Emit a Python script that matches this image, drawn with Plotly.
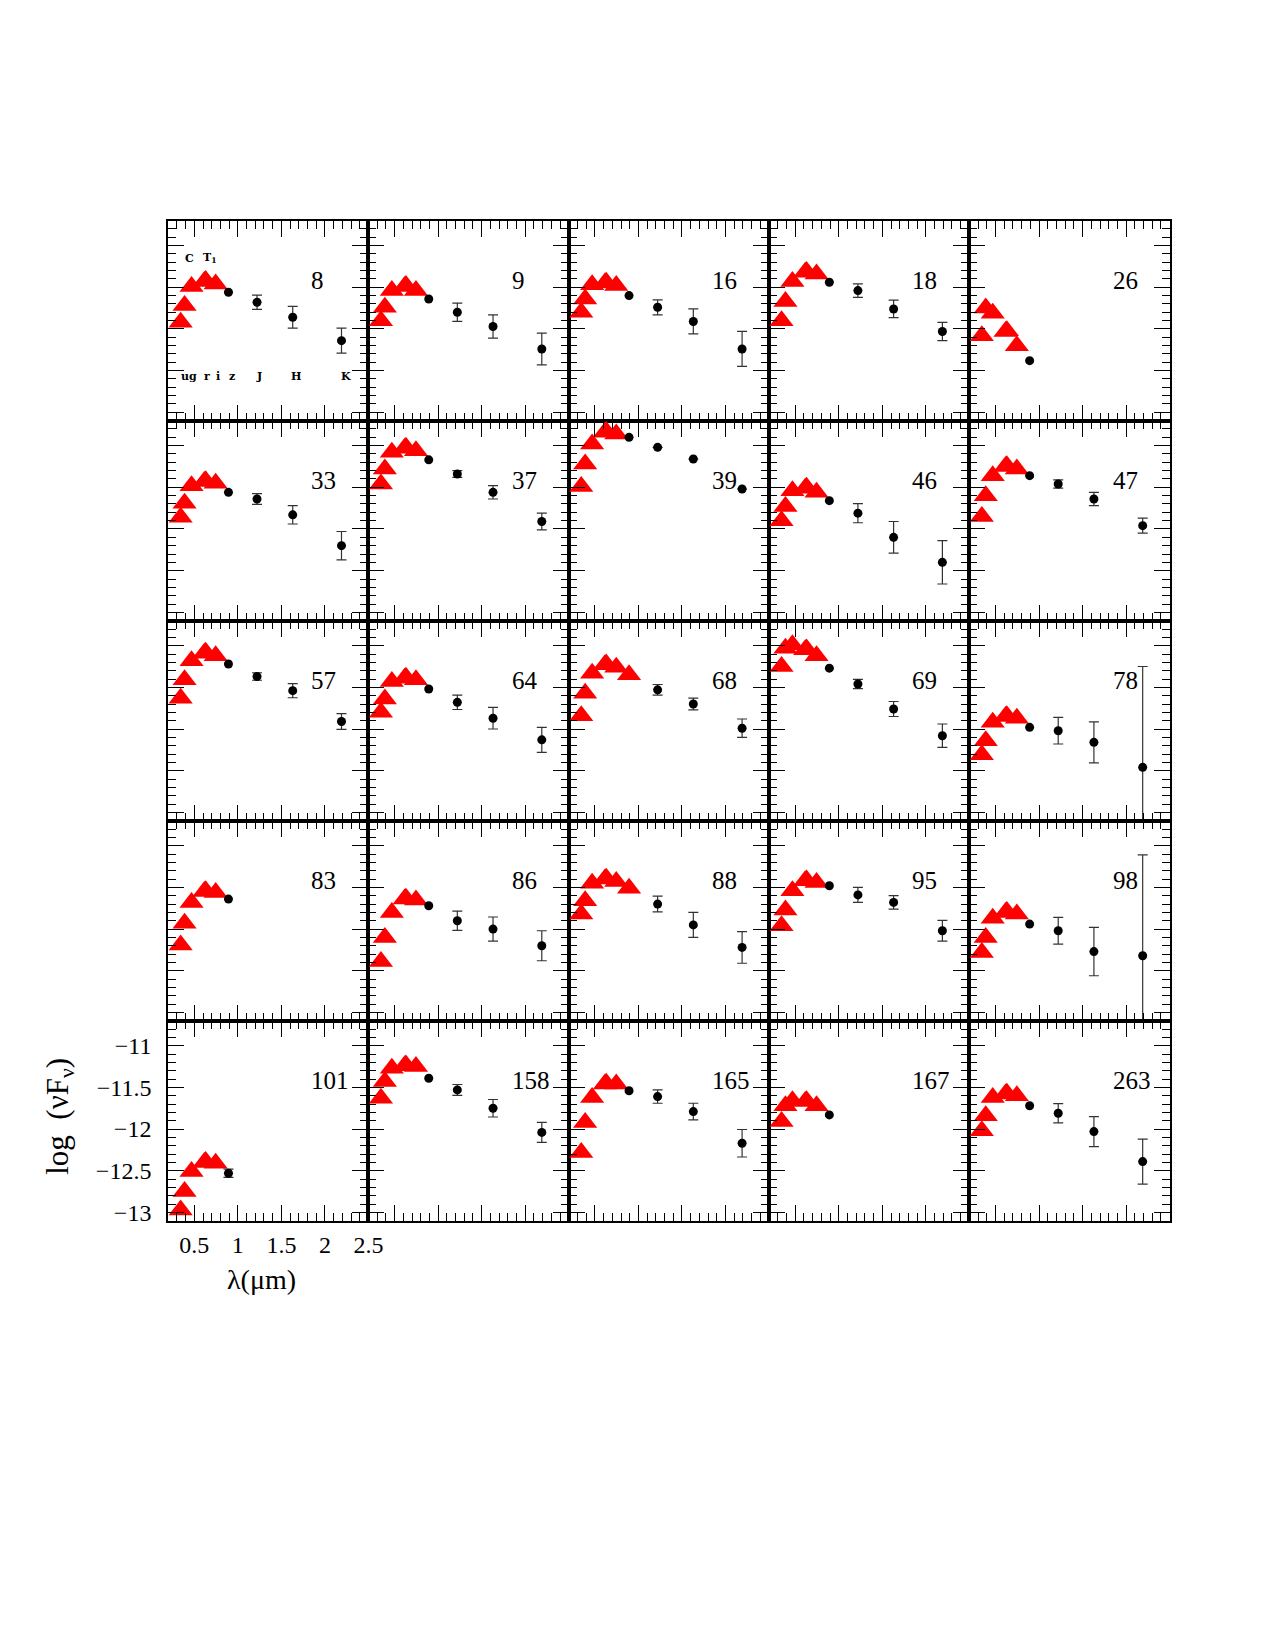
import plotly.graph_objects as go
from plotly.subplots import make_subplots

# ---------------- data ----------------
panel_ids = [8, 9, 16, 18, 26, 33, 37, 39, 46, 47, 57, 64, 68, 69, 78,
             83, 86, 88, 95, 98, 101, 158, 165, 167, 263]

# wavelengths (micron) of optical bands u, C, g, r, T1, i ; z ; J, H, K
opt_wave = [0.343, 0.388, 0.468, 0.615, 0.630, 0.745]
z_wave = 0.892
nir_wave = [1.22, 1.63, 2.19]

u_vals = [-11.92, -11.90, -11.80, -11.90, -12.08, -11.86, -11.46, -11.49, -11.90, -11.85,
          -11.63, -11.80, -11.84, -11.25, -12.31, -12.19, -12.39, -11.82, -11.96, -12.28,
          -12.97, -11.63, -12.28, -11.91, -12.02]
c_vals = [-11.72, -11.74, -11.64, -11.67, -11.75, -11.69, -11.28, -11.22, -11.73, -11.60,
          -11.41, -11.64, -11.57, -11.03, -12.14, -11.93, -12.10, -11.66, -11.77, -12.10,
          -12.75, -11.43, -11.92, -11.72, -11.84]
g_vals = [-11.49, -11.54, -11.47, -11.43, -11.81, -11.48, -11.08, -10.98, -11.54, -11.36,
          -11.18, -11.43, -11.33, -10.99, -11.92, -11.68, -11.80, -11.45, -11.54, -11.87,
          -12.51, -11.27, -11.62, -11.66, -11.62]
r_vals = [-11.43, -11.49, -11.45, -11.32, -12.03, -11.43, -11.03, -10.84, -11.51, -11.25,
          -11.09, -11.39, -11.23, -11.05, -11.85, -11.55, -11.64, -11.40, -11.42, -11.80,
          -12.40, -11.24, -11.46, -11.67, -11.58]
t1_vals = [-11.42, -11.48, -11.44, -11.31, -12.02, -11.42, -11.02, -10.83, -11.50, -11.24,
           -11.08, -11.38, -11.22, -11.04, -11.84, -11.54, -11.63, -11.39, -11.41, -11.79,
           -12.39, -11.23, -11.45, -11.66, -11.57]
i_vals = [-11.46, -11.54, -11.48, -11.34, -12.20, -11.45, -11.06, -10.86, -11.56, -11.28,
          -11.12, -11.41, -11.26, -11.12, -11.87, -11.56, -11.65, -11.43, -11.44, -11.82,
          -12.41, -11.25, -11.46, -11.72, -11.60]
z_vals = [-11.56, -11.64, -11.60, -11.44, -12.38, -11.56, -11.17, -10.90, -11.66, -11.36,
          -11.22, -11.52, -11.35, -11.27, -11.98, -11.64, -11.72, -11.51, -11.48, -11.94,
          -12.53, -11.39, -11.54, -11.83, -11.72]
z_is_triangle = [False, False, False, False, False, False, False, False, False, False,
                 False, False, True, False, False, False, False, True, False, False,
                 False, False, False, False, False]
z_err = [None] * 20 + [0.05, None, None, None, None]

j_vals = [-11.68, -11.80, -11.74, -11.54, None, -11.64, -11.34, -11.02, -11.81, -11.46,
          -11.37, -11.68, -11.53, -11.46, -12.02, None, -11.90, -11.70, -11.59, -12.02,
          None, -11.53, -11.61, None, -11.81]
h_vals = [-11.86, -11.97, -11.91, -11.76, None, -11.83, -11.56, -11.16, -12.10, -11.64,
          -11.54, -11.87, -11.70, -11.76, -12.16, None, -12.00, -11.95, -11.68, -12.27,
          None, -11.75, -11.79, None, -12.03]
k_vals = [-12.14, -12.24, -12.24, -12.03, None, -12.20, -11.91, -11.52, -12.40, -11.96,
          -11.91, -12.13, -11.99, -12.08, -12.46, None, -12.20, -12.22, -12.02, -12.32,
          None, -12.04, -12.17, None, -12.39]
j_err = [0.085, 0.11, 0.09, 0.08, None, 0.065, 0.04, 0.0, 0.115, 0.05,
         0.045, 0.086, 0.064, 0.055, 0.16, None, 0.115, 0.094, 0.09, 0.16,
         None, 0.065, 0.08, None, 0.115]
h_err = [0.13, 0.14, 0.15, 0.105, None, 0.11, 0.08, 0.0, 0.19, 0.08,
         0.085, 0.13, 0.07, 0.09, 0.245, None, 0.145, 0.15, 0.08, 0.29,
         None, 0.105, 0.10, None, 0.18]
k_err = [0.15, 0.19, 0.21, 0.11, None, 0.17, 0.10, 0.0, 0.26, 0.09,
         0.095, 0.15, 0.11, 0.14, 1.21, None, 0.18, 0.19, 0.125, 1.21,
         None, 0.12, 0.165, None, 0.27]

band_labels = ["u", "g", "r", "i", "z", "J", "H", "K"]
band_label_x = [0.39, 0.49, 0.64, 0.77, 0.93, 1.24, 1.67, 2.24]
top_labels = ["C", "T<sub>1</sub>"]
top_label_x = [0.446, 0.68]

x_range = [0.2, 2.5]
y_range = [-13.1, -10.7]

# ---------------- layout geometry (pixels from top-left) ----------------
W, H = 1275, 1600
X0, X1 = 170.2, 1183.6
Y0, Y1 = 221.3, 1224.6
pw = (X1 - X0) / 5
ph = (Y1 - Y0) / 5

FONT = "Liberation Serif"
RED = "#ff0000"

fig = make_subplots(rows=5, cols=5, horizontal_spacing=0, vertical_spacing=0)

for k, pid in enumerate(panel_ids):
    row, col = divmod(k, 5)
    r, c = row + 1, col + 1

    tri_x = list(opt_wave)
    tri_y = [u_vals[k], c_vals[k], g_vals[k], r_vals[k], t1_vals[k], i_vals[k]]
    if z_is_triangle[k]:
        tri_x.append(z_wave)
        tri_y.append(z_vals[k])

    fig.add_trace(go.Scatter(x=tri_x, y=tri_y, mode="markers",
                             marker=dict(symbol="triangle-up", size=21, color=RED,
                                         line=dict(width=0)),
                             showlegend=False, hoverinfo="skip"), row=r, col=c)

    if not z_is_triangle[k]:
        zt = dict(x=[z_wave], y=[z_vals[k]], mode="markers",
                  marker=dict(symbol="circle", size=9, color="black"),
                  showlegend=False, hoverinfo="skip")
        if z_err[k] is not None:
            zt["error_y"] = dict(type="data", array=[z_err[k]], visible=True,
                                 width=5, thickness=1.2, color="#333333")
        fig.add_trace(go.Scatter(**zt), row=r, col=c)

    if j_vals[k] is not None:
        ys = [j_vals[k], h_vals[k], k_vals[k]]
        es = [j_err[k], h_err[k], k_err[k]]
        fig.add_trace(go.Scatter(x=nir_wave, y=ys, mode="markers",
                                 marker=dict(symbol="circle", size=9, color="black"),
                                 error_y=dict(type="data", array=es, visible=True,
                                              width=5, thickness=1.2, color="#333333"),
                                 showlegend=False, hoverinfo="skip"), row=r, col=c)

    show_lbl = (k == 20)
    xd = [(X0 + col * pw) / W, (X0 + (col + 1) * pw) / W]
    yd = [1 - (Y0 + (row + 1) * ph) / H, 1 - (Y0 + row * ph) / H]
    common = dict(showline=True, linewidth=2, linecolor="black", mirror="allticks",
                  ticks="inside", ticklen=16, tickwidth=1.3, tickcolor="black",
                  showgrid=False, zeroline=False,
                  tickfont=dict(family=FONT, size=24, color="black"),
                  showticklabels=show_lbl, fixedrange=True)
    fig.update_xaxes(domain=xd, range=x_range, dtick=0.5, tick0=0, ticklabelstandoff=1,
                     minor=dict(ticks="inside", ticklen=8, tickwidth=1.3, dtick=0.1,
                                tick0=0, tickcolor="black", showgrid=False),
                     row=r, col=c, **common)
    fig.update_yaxes(domain=yd, range=y_range, dtick=0.5, tick0=-11, ticklabelstandoff=10,
                     minor=dict(ticks="inside", ticklen=8, tickwidth=1.3, dtick=0.1,
                                tick0=-11, tickcolor="black", showgrid=False),
                     row=r, col=c, **common)

    # panel number
    fig.add_annotation(text=str(pid), xref=f"x{k + 1 if k else ''} domain",
                       yref=f"y{k + 1 if k else ''} domain",
                       x=0.705, y=0.703, xanchor="left", yanchor="middle",
                       showarrow=False, font=dict(family=FONT, size=25, color="black"))

# filter labels in first panel
for lab, lx in zip(band_labels, band_label_x):
    fig.add_annotation(text=f"<b>{lab}</b>", xref="x", yref="y", x=lx, y=-12.57,
                       xanchor="center", yanchor="middle",
                       showarrow=False, font=dict(family="DejaVu Serif", size=11, color="black"))
for lab, lx in zip(top_labels, top_label_x):
    fig.add_annotation(text=f"<b>{lab}</b>", xref="x", yref="y", x=lx, y=-11.15,
                       xanchor="center", yanchor="middle",
                       showarrow=False, font=dict(family="DejaVu Serif", size=11, color="black"))

# axis titles
fig.add_annotation(text="λ(μm)", xref="paper", yref="paper",
                   x=265 / W, y=1 - 1284 / H, xanchor="center", yanchor="middle",
                   showarrow=False, font=dict(family=FONT, size=28, color="black"))
fig.add_annotation(text="log  (νF<sub>ν</sub>)", xref="paper", yref="paper",
                   x=60 / W, y=1 - 1120 / H, xanchor="center", yanchor="middle",
                   showarrow=False, textangle=-90,
                   font=dict(family=FONT, size=31, color="black"))

fig.update_layout(width=W, height=H, autosize=False,
                  margin=dict(l=0, r=0, t=0, b=0),
                  plot_bgcolor="white", paper_bgcolor="white", showlegend=False)

fig.write_html("out.html", config={"responsive": False})
